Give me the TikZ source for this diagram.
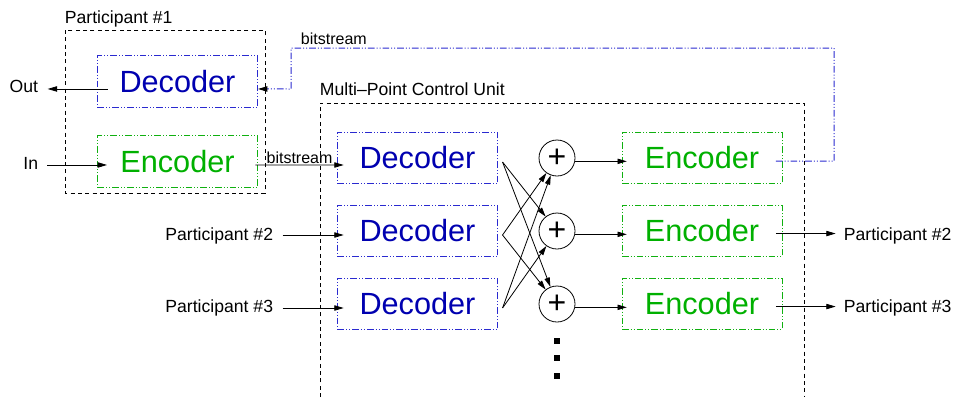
\documentclass[tikz,border=0pt]{standalone}
\usepackage{fontspec}
\setmainfont{Liberation Sans}
\usetikzlibrary{arrows.meta, calc}
\definecolor{mcublue}{HTML}{0000B0}
\definecolor{mculine}{HTML}{2A2AD0}
\definecolor{mcugreen}{HTML}{00B000}
\definecolor{mcugline}{HTML}{10B010}

\begin{document}
\begin{tikzpicture}[
  x=0.75pt, y=-0.75pt,
  dec/.style={
    rectangle,
    draw=mculine,
    line width=0.75pt,
    dash pattern=on 5pt off 1.5pt on 0.75pt off 1.5pt on 0.75pt off 1.5pt,
    minimum width=120pt,
    minimum height=38.5pt,
    text=mcublue,
    font=\fontsize{23}{26}\selectfont
  },
  enc/.style={
    rectangle,
    draw=mcugline,
    line width=0.75pt,
    dash pattern=on 5pt off 1.5pt on 0.75pt off 1.5pt on 0.75pt off 1.5pt,
    minimum width=120pt,
    minimum height=38.5pt,
    text=mcugreen,
    font=\fontsize{23}{26}\selectfont
  },
  adder/.style={circle, draw, line width=0.6pt, minimum size=27pt, inner sep=0pt, font=\fontsize{24}{26}\selectfont},
  group/.style={draw, line width=0.6pt, dash pattern=on 3pt off 2.5pt},
  lbl/.style={inner sep=2pt, font=\fontsize{13.2}{16}\selectfont},
  bits/.style={inner sep=2pt, font=\fontsize{12}{14}\selectfont},
  arrow/.style={-{Triangle[length=7pt,width=4pt]}, line width=0.6pt},
  feedback/.style={-{Triangle[length=7pt,width=4pt,color=black]}, draw=mculine, line width=0.75pt,
    dash pattern=on 5pt off 1.5pt on 0.75pt off 1.5pt on 0.75pt off 1.5pt},
  dot/.style={rectangle, fill, inner sep=0pt, minimum size=5.2pt}
]
  \useasboundingbox (0,0) rectangle (956,397);

  % Participant 1
  \draw[group] (65,30) rectangle (265,193);
  \node[lbl, anchor=base west] (p1) at (62,23) {Participant \#1};
  \node[dec] (pdec) at (177.5,81.5) {Decoder};
  \node[enc] (penc) at (177.5,161.5) {Encoder};
  \node[lbl, anchor=base east] (out1) at (41,92) {Out};
  \node[lbl, anchor=base east] (in1) at (41,169) {In};

  % MCU
  \draw[group] (320,397) |- (804,103) -- (804,397);
  \node[lbl, anchor=base west] (mcu) at (317,95) {Multi--Point Control Unit};
  \foreach \i/\y in {1/158, 2/231, 3/304} {
    \node[dec] (dec\i) at (417.5,\y) {Decoder};
    \node[adder] (sum\i) at (557,\y) {+};
    \node[enc] (enc\i) at (702,\y) {Encoder};
  }
  \foreach \y in {341,358,376}
    \node[dot] at (557,\y) {};

  % Participants 2 and 3
  \node[lbl, anchor=base east] (in2) at (276,240) {Participant \#2};
  \node[lbl, anchor=base east] (in3) at (276,312) {Participant \#3};
  \node[lbl, anchor=base west] (out2) at (841,240) {Participant \#2};
  \node[lbl, anchor=base west] (out3) at (841,312) {Participant \#3};

  % Participant 1 links
  \draw[arrow, shorten >=5pt] ([xshift=8pt,yshift=-5.6pt]pdec.west) coordinate (o1) -- (o1 -| out1.east);
  \draw[arrow, shorten <=4.5pt] ([xshift=7.5pt,yshift=-2.6pt]penc.west) coordinate (i1) (i1 -| in1.east) -- (i1);
  \draw[arrow] ([xshift=-2pt,yshift=-2.6pt]penc.east) -- ([xshift=5pt,yshift=-5.25pt]dec1.west)
    node[bits, pos=0.5, above, inner sep=1pt] {bitstream};
  \draw[feedback] ([xshift=-5pt,yshift=-2.25pt]enc1.east) -| (834,48) -| (291,89) -- ([yshift=-5.6pt]pdec.east);
  \node[bits, anchor=base west] (fbl) at (298,44) {bitstream};

  % inputs and outputs
  \foreach \i in {2,3} {
    \draw[arrow, shorten <=5pt] ([xshift=5pt,yshift=-3pt]dec\i.west) coordinate (i\i) (i\i -| in\i.east) -- (i\i);
    \draw[arrow, shorten >=4pt] ([xshift=-5pt,yshift=-1.9pt]enc\i.east) coordinate (o\i) -- (o\i -| out\i.west);
  }

  % mixing
  \foreach \i in {1,2,3}
    \coordinate (d\i) at ([xshift=3.4pt,yshift=-3pt]dec\i.east);
  \draw[arrow] (d1) -- (sum2);
  \draw[arrow] (d1) -- (sum3);
  \draw[arrow] (d2) -- (sum1);
  \draw[arrow] (d2) -- (sum3);
  \draw[arrow] (d3) -- (sum1);
  \draw[arrow] (d3) -- (sum2);
  \foreach \i in {1,2,3}
    \draw[arrow] ([yshift=-2.5pt]sum\i.east) -- ([xshift=4pt,yshift=-2.5pt]enc\i.west);
\end{tikzpicture}
\end{document}
